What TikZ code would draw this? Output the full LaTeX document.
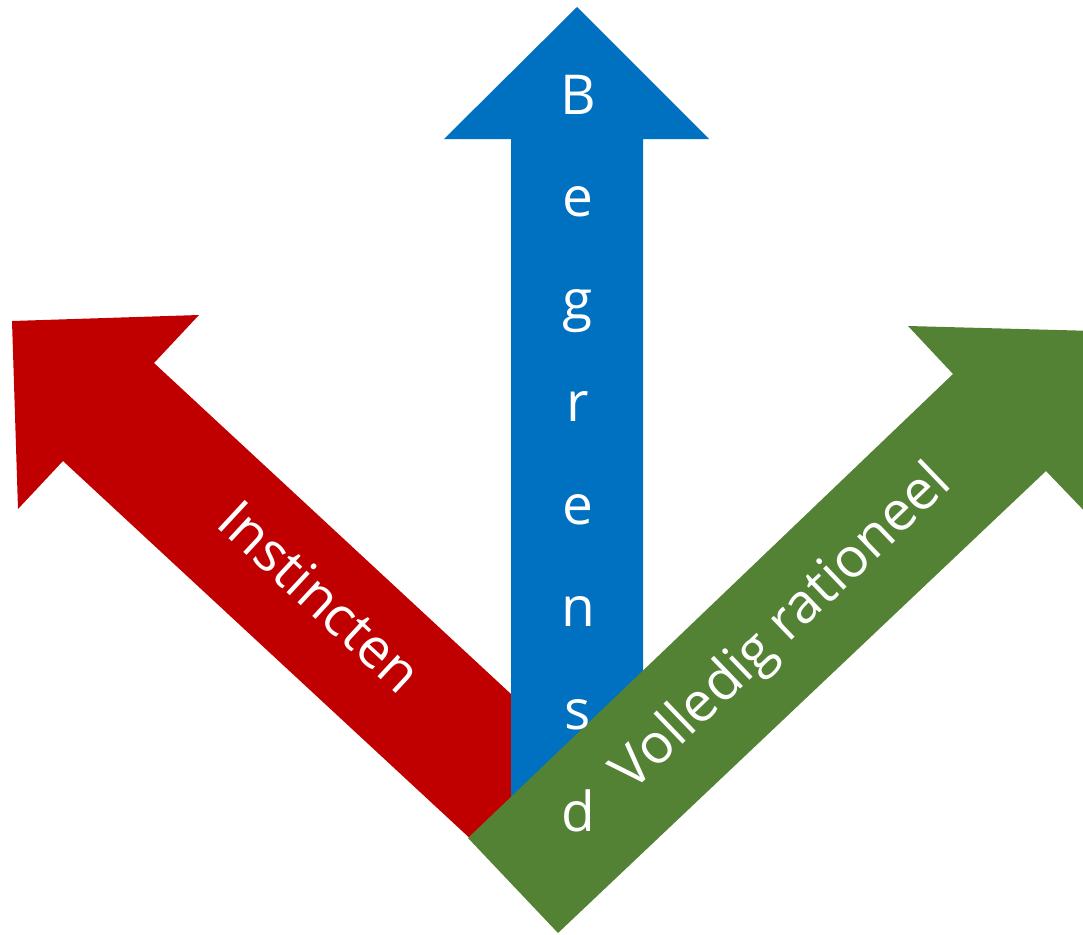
\documentclass[tikz,border=0pt]{standalone}
\usepackage{fontspec}
\setmainfont{Open Sans}
\definecolor{arrowred}{HTML}{C00000}
\definecolor{arrowblue}{HTML}{0070C0}
\definecolor{arrowgreen}{HTML}{548235}
\begin{document}
\begin{tikzpicture}[x=1pt,y=-1pt,
  lbl/.style={text=white, inner sep=0pt, anchor=base, font=\fontsize{55}{66}\selectfont}]
\useasboundingbox (0,0) rectangle (1083,934);
% red arrow (up-left)
\fill[arrowred] (12,321) -- (199,315) -- (154,363) -- (586.5,764) -- (495.5,862)
  -- (63,461) -- (18,509) -- cycle;
% blue arrow (up)
\fill[arrowblue] (577,7) -- (709,139) -- (643,139) -- (643,840) -- (511,840)
  -- (511,139) -- (444,139) -- cycle;
% green arrow (up-right)
\fill[arrowgreen] (1095,331) -- (1092,519) -- (1046,471) -- (558,933) -- (468,838)
  -- (953,374) -- (908,326) -- cycle;
% labels
\node[lbl, rotate=-42.85] (instincten) at (307,611) {Instincten};
\node[lbl, rotate=43.8] (rationeel) at (793,639) {Volledig rationeel};
\foreach \ch [count=\i from 0] in {B,e,g,r,e,n,s,d}
  \node[lbl] (begr\i) at (578,{114+102.5*\i}) {\ch};
\end{tikzpicture}
\end{document}
